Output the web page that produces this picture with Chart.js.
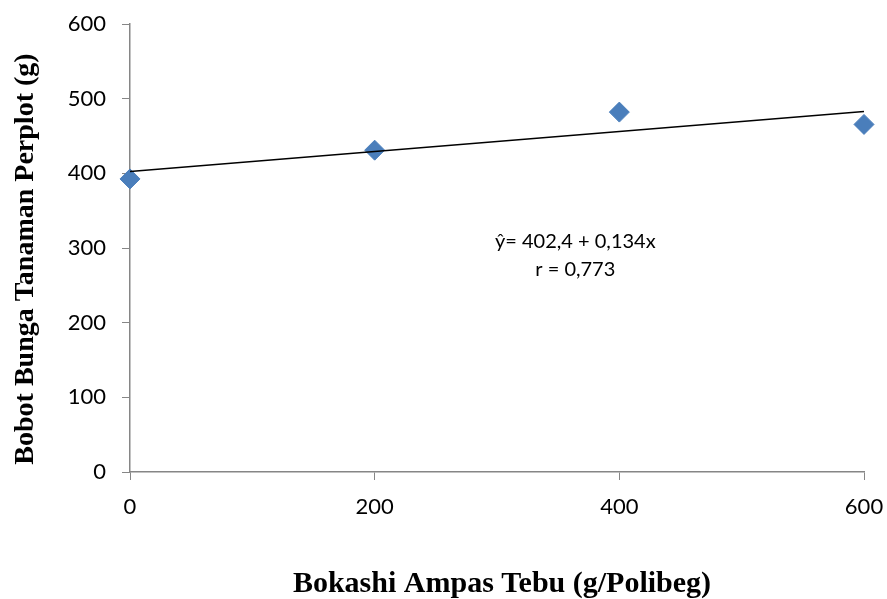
<!DOCTYPE html>
<html>
<head>
<meta charset="utf-8">
<script src="https://cdn.jsdelivr.net/npm/chart.js@4"></script>
<style>
  html, body { margin: 0; padding: 0; background: #fff; }
  #wrap { width: 887px; height: 599px; }
</style>
</head>
<body>
<div id="wrap"><canvas id="chart" width="887" height="599"></canvas></div>
<script>
// data
const dosis = [0, 200, 400, 600];          // Bokashi Ampas Tebu (g/Polibeg)
const bobot = [392.5, 431, 482, 465.5];      // Bobot Bunga Tanaman Perplot (g)

// regression shown on the chart
const intercept = 402.4;
const slope = 0.134;
const trendX = [0, 600];
const eqLines = ['ŷ= 402,4 + 0,134x', 'r = 0,773'];

const xTicks = [0, 200, 400, 600];
const yTicks = [0, 100, 200, 300, 400, 500, 600];

const xTitle = 'Bokashi Ampas Tebu (g/Polibeg)';
const yTitle = 'Bobot Bunga Tanaman Perplot (g)';

const tickFont = { family: 'Lato, "Open Sans", sans-serif', size: 22 };
const axisGrey = '#868686';

// equation inside the plot + the two axis titles
const textPlugin = {
    id: 'textBits',
    afterDatasetsDraw(chart) {
        const ctx = chart.ctx;
        const xs = chart.scales.x, ys = chart.scales.y;
        ctx.save();
        ctx.fillStyle = '#000';

        ctx.font = '20px Lato, "Open Sans", sans-serif';
        ctx.textAlign = 'center';
        ctx.textBaseline = 'middle';
        ctx.fillText(eqLines[0], xs.getPixelForValue(364), ys.getPixelForValue(308));
        ctx.fillText(eqLines[1], xs.getPixelForValue(364), ys.getPixelForValue(270.5));

        // titles sit a bit off the scale centres in the original
        ctx.font = 'bold 30px "Liberation Serif", "Times New Roman", serif';
        ctx.textBaseline = 'alphabetic';
        ctx.fillText(xTitle, (xs.left + xs.right) / 2 + 5, 592);

        ctx.font = 'bold 28px "Liberation Serif", "Times New Roman", serif';
        ctx.translate(33, (ys.top + ys.bottom) / 2 + 11);
        ctx.rotate(-Math.PI / 2);
        ctx.fillText(yTitle, 0, 0);
        ctx.restore();
    }
};

new Chart(document.getElementById('chart'), {
    type: 'scatter',
    data: {
        datasets: [
            {
                label: 'Trend',
                type: 'line',
                data: trendX.map(v => ({ x: v, y: intercept + slope * v })),
                borderColor: '#000',
                borderWidth: 1.5,
                pointRadius: 0,
                fill: false
            },
            {
                label: 'Bobot',
                data: dosis.map((v, i) => ({ x: v, y: bobot[i] })),
                clip: false,
                pointStyle: 'rectRot',
                pointRadius: 10,
                pointBackgroundColor: '#4A7EBB',
                pointBorderColor: '#4A7EBB',
                pointBorderWidth: 1
            }
        ]
    },
    options: {
        responsive: false,
        animation: false,
        layout: { padding: { left: 0, top: 24, right: 23, bottom: 0 } },
        plugins: { legend: { display: false }, tooltip: { enabled: false } },
        scales: {
            x: {
                type: 'linear',
                min: 0, max: 600,
                afterFit: s => { s.height = 127; s.paddingLeft = 0; s.paddingRight = 0; },
                afterBuildTicks: s => { s.ticks = xTicks.map(v => ({ value: v })); },
                ticks: { font: tickFont, color: '#000', padding: 14 },
                grid: { drawOnChartArea: false, tickLength: 8, color: axisGrey },
                border: { color: axisGrey, width: 1.5 }
            },
            y: {
                min: 0, max: 600,
                afterFit: s => { s.width = 130; s.paddingTop = 0; s.paddingBottom = 0; },
                afterBuildTicks: s => { s.ticks = yTicks.map(v => ({ value: v })); },
                ticks: { font: tickFont, color: '#000', padding: 16 },
                grid: { drawOnChartArea: false, tickLength: 8, color: axisGrey },
                border: { color: axisGrey, width: 1.5 }
            }
        }
    },
    plugins: [textPlugin]
});
</script>
</body>
</html>
